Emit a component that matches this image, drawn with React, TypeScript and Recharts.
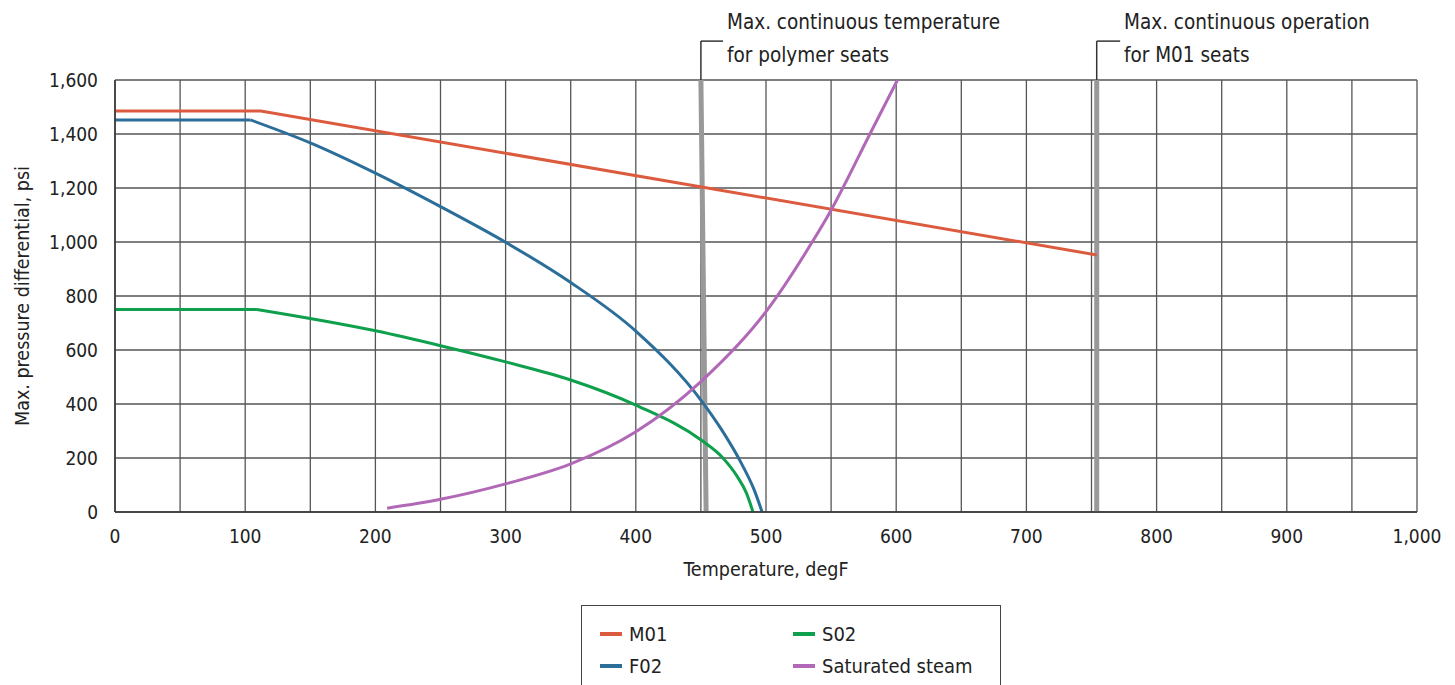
import React from 'react';
import { LineChart, Line, XAxis, YAxis, CartesianGrid, ReferenceLine } from 'recharts';

// series (temperature degF -> max pressure differential psi)
const m01Temp = [0, 112, 754];
const m01Psi = [1485, 1485, 952];

const f02Temp = [0, 104, 150, 200, 250, 300, 350, 400, 451, 466, 481, 491, 497];
const f02Psi = [1452, 1452, 1367, 1255, 1131, 999, 850, 670, 408, 304, 181, 81, 0];

const s02Temp = [0, 109, 200, 250, 300, 350, 400, 451, 466, 478, 485, 490];
const s02Psi = [750, 750, 671, 616, 556, 489, 396, 264, 205, 131, 70, 0];

const steamTemp = [209, 250, 300, 350, 400, 450, 500, 535, 550, 580, 601];
const steamPsi = [14, 47, 104, 178, 297, 483, 742, 996, 1118, 1402, 1600];

const xTicks = [0, 50, 100, 150, 200, 250, 300, 350, 400, 450, 500, 550, 600, 650, 700, 750, 800, 850, 900, 950, 1000];
const yTicks = [0, 200, 400, 600, 800, 1000, 1200, 1400, 1600];

// grey limit lines
const polymerLimit = [450, 454];
const m01Limit = 754;

const seriesNames = ['M01', 'F02', 'S02', 'Saturated steam'];
const COLORS = ['#dc5b3f', '#2b6e99', '#0ea04c', '#b168b7'];

const FONT = '"Liberation Sans Narrow", "DejaVu Sans Condensed", "DejaVu Sans", sans-serif';
const TEXT = '#222';

const toPoints = (t: number[], p: number[]) => t.map((v, i) => ({ t: v, p: p[i] }));

// flat part drawn straight, bent part drawn as a smooth curve (keeps the sharp knee)
const pieces = [
  { name: 'M01', color: COLORS[0], type: 'linear', data: toPoints(m01Temp, m01Psi) },
  { name: 'F02-flat', color: COLORS[1], type: 'linear', data: toPoints(f02Temp, f02Psi).slice(0, 2) },
  { name: 'F02', color: COLORS[1], type: 'monotone', data: toPoints(f02Temp, f02Psi).slice(1) },
  { name: 'S02-flat', color: COLORS[2], type: 'linear', data: toPoints(s02Temp, s02Psi).slice(0, 2) },
  { name: 'S02', color: COLORS[2], type: 'monotone', data: toPoints(s02Temp, s02Psi).slice(1) },
  { name: 'steam', color: COLORS[3], type: 'monotone', data: toPoints(steamTemp, steamPsi) },
];

const fmt = (v: number) => v.toLocaleString('en-US');

function LegendBox() {
  const item = (i: number) => (
    <div style={{ display: 'flex', alignItems: 'center', height: 32 }}>
      <div style={{ width: 22, height: 4, background: COLORS[i], marginRight: 7 }} />
      <span>{seriesNames[i]}</span>
    </div>
  );
  return (
    <div
      style={{
        position: 'absolute', left: 581, top: 605, width: 420, height: 100,
        border: '1.5px solid #444', boxSizing: 'border-box',
        fontFamily: FONT, fontSize: 20, color: TEXT,
      }}
    >
      <div style={{ position: 'absolute', left: 18, top: 12 }}>
        {item(0)}
        {item(1)}
      </div>
      <div style={{ position: 'absolute', left: 211, top: 12 }}>
        {item(2)}
        {item(3)}
      </div>
    </div>
  );
}

export default function App() {
  const noteStyle: React.CSSProperties = {
    position: 'absolute', fontFamily: FONT, fontSize: 20.5, lineHeight: '33px', color: TEXT, whiteSpace: 'nowrap',
  };
  return (
    <div style={{ position: 'absolute', left: 0, top: 0, width: 1455, height: 685, overflow: 'hidden', background: '#fff' }}>
      <LineChart width={1455} height={685} margin={{ top: 80, right: 38, left: 10, bottom: 103 }}>
        <CartesianGrid stroke="#555" strokeWidth={1.3} />
        <XAxis
          type="number"
          dataKey="t"
          domain={[0, 1000]}
          ticks={xTicks}
          interval={0}
          tickFormatter={(v: number) => (v % 100 === 0 ? fmt(v) : '')}
          tickLine={false}
          tickMargin={12}
          axisLine={{ stroke: '#333', strokeWidth: 1.5 }}
          tick={{ fill: TEXT, fontSize: 19, fontFamily: FONT }}
          height={70}
          label={{ value: 'Temperature, degF', position: 'insideBottom', offset: 6, fill: TEXT, fontSize: 19.5, fontFamily: FONT }}
        />
        <YAxis
          type="number"
          domain={[0, 1600]}
          ticks={yTicks}
          interval={0}
          tickFormatter={fmt}
          tickLine={false}
          tickMargin={11}
          axisLine={{ stroke: '#333', strokeWidth: 1.5 }}
          tick={{ fill: TEXT, fontSize: 19, fontFamily: FONT }}
          width={105}
          label={{
            value: 'Max. pressure differential, psi', angle: -90, position: 'insideLeft', offset: 12,
            fill: TEXT, fontSize: 19.5, fontFamily: FONT, style: { textAnchor: 'middle' },
          }}
        />

        <ReferenceLine
          segment={[{ x: polymerLimit[0], y: 1600 }, { x: polymerLimit[1], y: 0 }]}
          stroke="#999"
          strokeWidth={5}
        />
        <ReferenceLine x={m01Limit} stroke="#999" strokeWidth={5} />

        {/* leader lines to the notes */}
        <ReferenceLine
          segment={[{ x: polymerLimit[0], y: 1600 }, { x: polymerLimit[0], y: 1744 }]}
          stroke="#333" strokeWidth={1.5} ifOverflow="visible"
        />
        <ReferenceLine
          segment={[{ x: polymerLimit[0], y: 1744 }, { x: polymerLimit[0] + 17, y: 1744 }]}
          stroke="#333" strokeWidth={1.5} ifOverflow="visible"
        />
        <ReferenceLine
          segment={[{ x: m01Limit, y: 1600 }, { x: m01Limit, y: 1744 }]}
          stroke="#333" strokeWidth={1.5} ifOverflow="visible"
        />
        <ReferenceLine
          segment={[{ x: m01Limit, y: 1744 }, { x: m01Limit + 18, y: 1744 }]}
          stroke="#333" strokeWidth={1.5} ifOverflow="visible"
        />

        {pieces.map((s) => (
          <Line
            key={s.name}
            data={s.data}
            dataKey="p"
            type={s.type as 'linear' | 'monotone'}
            stroke={s.color}
            strokeWidth={3}
            dot={false}
            isAnimationActive={false}
          />
        ))}
      </LineChart>

      <div style={{ ...noteStyle, left: 727, top: 6 }}>
        Max. continuous temperature<br />for polymer seats
      </div>
      <div style={{ ...noteStyle, left: 1124, top: 6 }}>
        Max. continuous operation<br />for M01 seats
      </div>
      <LegendBox />
    </div>
  );
}
